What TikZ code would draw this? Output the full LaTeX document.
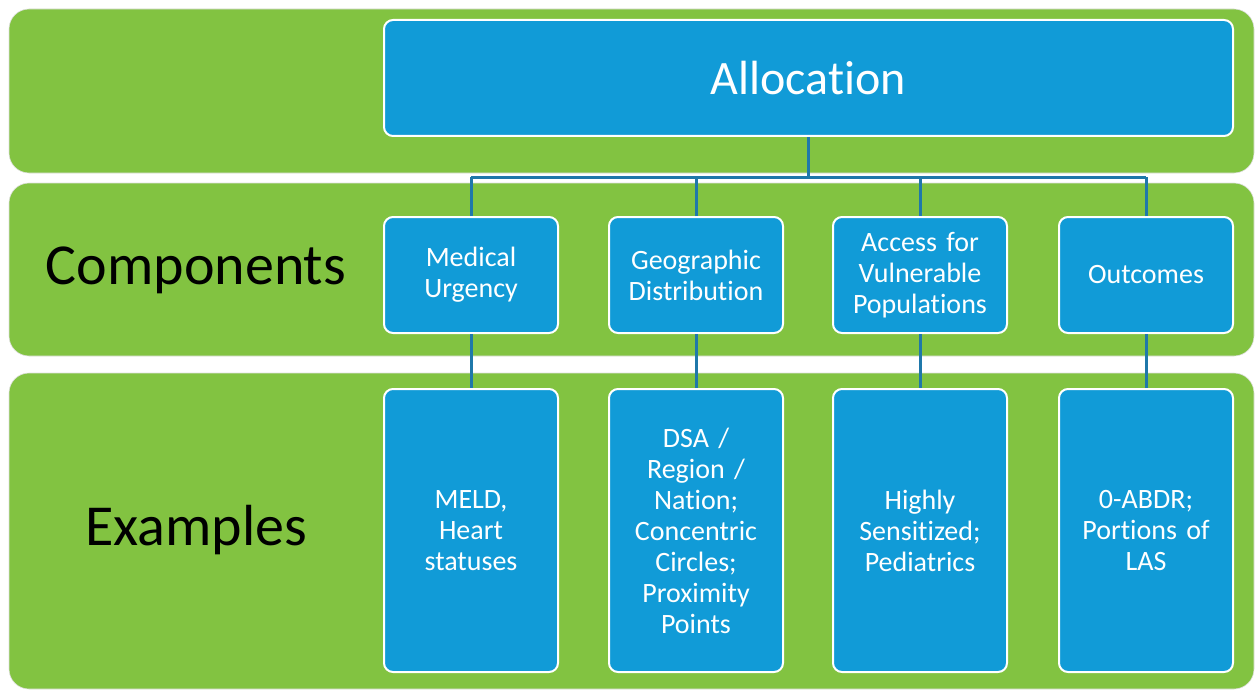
\documentclass[tikz,border=0pt]{standalone}
\usepackage{fontspec}
\setmainfont[Ligatures=NoCommon]{Carlito}
\definecolor{bandgreen}{HTML}{82C341}
\definecolor{boxblue}{HTML}{119BD7}
\definecolor{linkblue}{HTML}{1F78AA}
\begin{document}
\begin{tikzpicture}[x=1pt,y=-1pt,
		band/.style={fill=bandgreen,draw=black!12,line width=0.6pt,rounded corners=20pt},
		card/.style={rectangle,fill=boxblue,draw=white,line width=2pt,rounded corners=9pt,
			text=white,align=center,inner sep=0pt,font=\fontsize{28}{31}\selectfont},
		comp/.style={card,minimum width=174pt,minimum height=116pt,text width=170pt},
		ex/.style={card,minimum width=174pt,minimum height=283pt,text width=170pt},
		rowlabel/.style={text=black,font=\fontsize{58}{64}\selectfont},
		conn/.style={draw=linkblue,line width=3pt}]
		\useasboundingbox (0,0) rectangle (1255,690);

		% bands
		\draw[band] (9,9) rectangle (1254,173);
		\draw[band] (9,183) rectangle (1254,356);
		\draw[band] (9,373) rectangle (1254,689);

		\node[rowlabel] (lblcomp) at (196,270) {Components};
		\node[rowlabel] (lblex) at (196,530) {Examples};

		% connectors first, boxes on top
		\coordinate (alloctop) at (808.5,136);
		\coordinate (bar) at (808.5,177);

		\node[card,minimum width=849pt,minimum height=116pt,font=\fontsize{48}{52}\selectfont] (alloc) at (808.5,78) {Allocation};

		\node[comp] (med) at (471,275) {Medical\\Urgency};
		\node[comp] (geo) at (696,275) {Geographic\\Distribution};
		\node[comp] (acc) at (920,275) {Access for\\Vulnerable\\Populations};
		\node[comp] (out) at (1146,275) {Outcomes};

		\node[ex] (exmed) at (471,530.5) {MELD,\\Heart\\statuses};
		\node[ex] (exgeo) at (696,530.5) {DSA /\\Region /\\Nation;\\Concentric\\Circles;\\Proximity\\Points};
		\node[ex] (exacc) at (920,530.5) {Highly\\Sensitized;\\Pediatrics};
		\node[ex] (exout) at (1146,530.5) {0-ABDR;\\Portions of\\LAS};

		\draw[conn] (alloc.south) -- (alloc.south |- bar);
		\draw[conn] (med.north |- bar) -- (out.north |- bar);
		\draw[conn] (med.north) -- (med.north |- bar);
		\draw[conn] (geo.north) -- (geo.north |- bar);
		\draw[conn] (acc.north) -- (acc.north |- bar);
		\draw[conn] (out.north) -- (out.north |- bar);

		\draw[conn] (med.south) -- (exmed.north);
		\draw[conn] (geo.south) -- (exgeo.north);
		\draw[conn] (acc.south) -- (exacc.north);
		\draw[conn] (out.south) -- (exout.north);
	\end{tikzpicture}
\end{document}
